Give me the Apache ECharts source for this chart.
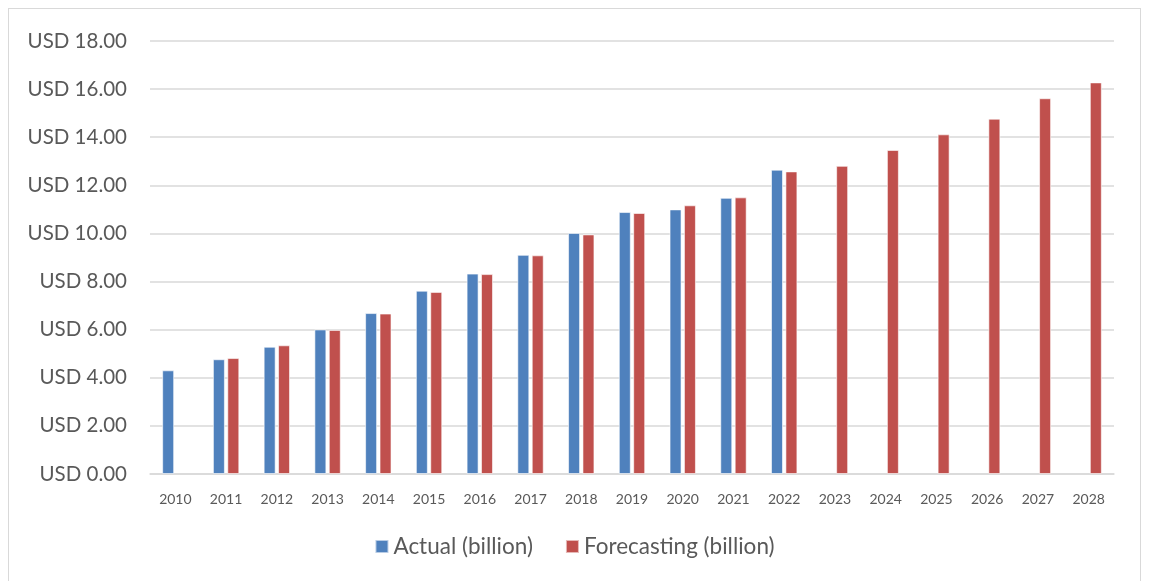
<!DOCTYPE html>
<html>
<head>
<meta charset="utf-8">
<script src="https://cdn.jsdelivr.net/npm/echarts@6/dist/echarts.min.js"></script>
<style>
html,body{margin:0;padding:0;background:#fff;}
#frame{position:absolute;left:8px;top:8px;width:1133px;height:580px;border:1px solid #d9d9d9;box-sizing:border-box;}
#chart{position:absolute;left:0;top:0;width:1149px;height:581px;}
</style>
</head>
<body>
<div id="frame"></div>
<div id="chart"></div>
<script>
const categories = ['2010','2011','2012','2013','2014','2015','2016','2017','2018','2019','2020','2021','2022','2023','2024','2025','2026','2027','2028'];
const actual = [4.31,4.77,5.29,6.01,6.69,7.62,8.33,9.11,10.02,10.89,11.00,11.48,12.65,null,null,null,null,null,null];
const forecasting = [null,4.82,5.35,5.99,6.67,7.57,8.31,9.09,9.96,10.85,11.17,11.50,12.58,12.81,13.47,14.12,14.77,15.62,16.28];
const yMin = 0, yMax = 18, yInterval = 2;

const chart = echarts.init(document.getElementById('chart'), null, {renderer:'canvas'});
const font = 'Lato, "Open Sans", sans-serif';
chart.setOption({
  animation:false,
  backgroundColor:'transparent',
  textStyle:{fontFamily:font},
  grid:{left:150,right:35,top:41,bottom:107,containLabel:false},
  legend:{
    bottom:18,left:'center',
    itemWidth:13,itemHeight:13,itemGap:32,
    icon:'rect',
    textStyle:{fontSize:22.5,color:'#595959',fontFamily:font},
    data:['Actual (billion)','Forecasting (billion)']
  },
  xAxis:{
    type:'category',data:categories,
    axisLine:{lineStyle:{color:'#d9d9d9',width:1.5}},
    axisTick:{show:false},
    axisLabel:{fontSize:14,color:'#595959',margin:18,fontFamily:font}
  },
  yAxis:{
    type:'value',min:yMin,max:yMax,interval:yInterval,
    axisLine:{show:false},axisTick:{show:false},
    splitLine:{lineStyle:{color:'#d9d9d9',width:1.5}},
    axisLabel:{fontSize:20.5,color:'#595959',margin:23,fontFamily:font,
      formatter:v=>'USD '+v.toFixed(2)}
  },
  series:[
    {name:'Actual (billion)',type:'bar',data:actual,barWidth:12,barGap:'20%',
      itemStyle:{color:'#4F81BD',borderColor:'rgba(255,255,255,0.6)',borderWidth:1}},
    {name:'Forecasting (billion)',type:'bar',data:forecasting,barWidth:12,barGap:'20%',
      itemStyle:{color:'#C0504D',borderColor:'rgba(255,255,255,0.6)',borderWidth:1}}
  ]
});
</script>
</body>
</html>
